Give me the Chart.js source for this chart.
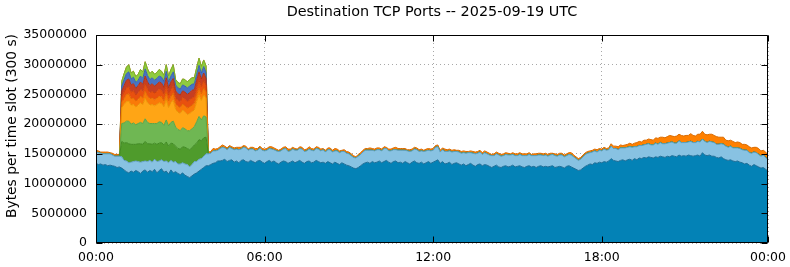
<!DOCTYPE html>
<html><head><meta charset="utf-8">
<script src="https://cdn.jsdelivr.net/npm/chart.js@4"></script>
<style>html,body{margin:0;padding:0;background:#fff;overflow:hidden}canvas{display:block}</style>
</head><body>
<canvas id="c" width="790" height="267"></canvas>
<script>
// ---- text ----
const TITLE = 'Destination TCP Ports -- 2025-09-19 UTC';
const Y_TITLE = 'Bytes per time slot (300 s)';
const XTICK_SLOTS = [0, 72, 144, 216, 287];
const XTICK_LABELS = ['00:00', '06:00', '12:00', '18:00', '00:00'];
const Y_MAX = 35000000, Y_STEP = 5000000;

// ---- values, millions of bytes per 5-minute slot (288 slots) ----
// bottom layer (dark blue)
const base1 = [
13.4,13.2,13.3,13.1,13.2,13.0,13.1,13.0,12.9,12.7,12.8,12.6,
12.3,12.0,11.8,12.1,11.9,12.2,12.0,11.7,12.1,12.3,11.9,12.2,
12.0,12.4,11.8,12.2,12.5,11.9,12.1,11.6,12.3,11.8,12.0,11.7,
11.5,11.8,11.4,11.2,11.0,11.3,11.6,11.8,12.1,12.4,12.7,13.0,
13.0,13.2,13.4,13.5,13.8,13.8,13.9,14.1,13.7,13.9,14.0,13.6,
13.8,13.5,13.9,14.0,13.7,13.6,13.9,13.7,13.5,13.8,13.9,13.6,
13.4,13.7,13.9,13.6,13.8,13.5,13.3,13.6,13.8,13.7,13.4,13.6,
13.8,13.5,13.7,13.9,13.6,13.4,13.7,13.8,13.5,13.6,13.9,13.7,
13.5,13.6,13.4,13.7,13.5,13.3,13.6,13.4,13.2,13.5,13.3,13.1,
13.0,12.8,12.6,12.5,12.7,13.0,13.3,13.5,13.6,13.4,13.7,13.5,
13.6,13.8,13.5,13.7,13.9,13.6,13.4,13.7,13.8,13.5,13.6,13.4,
13.7,13.5,13.3,13.6,13.8,13.5,13.4,13.6,13.3,13.5,13.7,13.4,
13.6,13.8,14.0,13.4,13.7,13.3,13.4,13.6,13.2,13.4,13.5,13.3,
13.1,13.3,13.0,13.2,13.4,13.1,12.9,13.2,13.3,13.0,13.2,13.1,
12.9,12.7,12.9,13.1,12.8,12.7,12.9,13.0,12.8,12.9,13.1,12.8,
12.9,13.0,12.8,12.7,12.9,13.0,12.8,12.9,12.7,12.9,13.0,12.8,
12.9,12.8,12.9,13.0,12.7,12.8,12.9,12.8,12.6,12.9,13.0,12.8,
12.6,12.4,12.2,12.3,12.6,12.9,13.1,13.3,13.2,13.5,13.4,13.6,
13.5,13.7,13.6,13.8,14.2,13.9,13.8,13.7,13.9,14.0,13.8,14.0,
14.1,13.9,14.2,14.0,14.3,14.2,14.4,14.3,14.5,14.4,14.3,14.5,
14.4,14.6,14.5,14.4,14.6,14.5,14.7,14.6,14.5,14.8,14.6,14.7,
14.6,14.8,14.7,14.6,14.7,14.8,14.6,15.2,14.8,14.7,14.8,14.6,
14.6,14.4,14.3,14.5,14.2,14.0,13.9,14.0,13.8,13.7,13.8,13.6,
13.5,13.3,13.4,13.1,12.9,13.2,13.0,12.8,12.6,12.7,12.4,12.1
];
// second layer (light blue)
const base2 = [
1.9,2.0,1.8,1.9,1.8,2.0,1.9,1.8,1.7,1.9,1.8,1.9,
1.6,1.8,1.7,1.5,1.8,1.6,1.7,1.9,1.6,1.5,1.8,1.7,
1.6,1.7,1.9,1.6,1.5,1.8,1.7,1.9,1.6,1.8,1.7,1.6,
1.8,1.7,1.9,2.0,1.8,1.9,2.1,1.9,2.0,1.8,1.9,2.0,
2.0,1.9,2.1,2.0,1.8,2.1,2.2,1.9,2.0,2.2,1.9,2.1,
2.0,2.2,1.9,2.1,2.3,2.0,1.9,2.1,2.0,1.8,2.1,2.0,
2.1,1.9,2.0,2.2,1.9,2.0,2.1,1.9,2.0,2.2,2.0,1.9,
2.0,2.1,1.9,2.0,2.2,2.0,1.8,2.0,2.1,1.9,2.0,2.1,
2.0,2.1,1.9,2.0,2.2,2.0,1.9,2.1,2.0,1.9,2.1,2.0,
2.0,1.9,1.8,1.8,1.9,1.9,2.0,2.1,2.0,2.2,1.9,2.0,
2.1,1.9,2.0,2.2,2.0,1.9,2.1,2.0,1.9,2.1,2.0,2.2,
1.9,2.0,2.1,1.9,2.0,2.2,2.0,1.9,2.1,2.0,1.9,2.1,
2.0,2.3,2.2,1.9,2.0,2.1,2.0,1.9,2.1,2.0,1.9,2.0,
2.0,1.9,2.1,2.0,1.8,2.0,2.1,1.9,2.0,1.9,2.0,1.9,
1.9,2.0,1.8,1.9,2.0,1.9,1.8,1.9,2.0,1.9,1.8,1.9,
1.8,1.9,1.9,2.0,1.8,1.9,1.9,1.8,2.0,1.9,1.8,1.9,
1.9,1.8,1.9,1.9,2.0,1.8,1.9,2.0,1.9,1.8,1.9,2.0,
1.9,1.8,1.7,1.8,1.9,2.0,2.0,1.9,2.1,2.0,1.9,2.0,
2.0,2.1,2.0,1.9,2.1,2.0,2.1,2.0,2.1,2.0,2.2,2.1,
2.1,2.2,2.0,2.2,2.1,2.2,2.1,2.3,2.2,2.1,2.2,2.3,
2.2,2.3,2.2,2.3,2.2,2.4,2.3,2.2,2.3,2.4,2.3,2.2,
2.3,2.2,2.4,2.3,2.2,2.3,2.4,2.3,2.3,2.2,2.3,2.4,
2.3,2.2,2.3,2.2,2.4,2.3,2.2,2.3,2.2,2.3,2.2,2.3,
2.2,2.3,2.2,2.1,2.2,2.1,2.2,2.1,2.0,2.1,2.0,1.9
];
// top layer (orange)
const topOrange = [
0.3,0.3,0.2,0.3,0.3,0.3,0.2,0.3,0.3,0.3,0.3,0.0,
0,0,0,0,0,0,0,0,0,0,0,0,
0,0,0,0,0,0,0,0,0,0,0,0,
0,0,0,0,0,0,0,0,0,0,0,0,
0.3,0.3,0.4,0.3,0.3,0.3,0.4,0.3,0.3,0.3,0.3,0.3,
0.3,0.4,0.3,0.3,0.3,0.2,0.3,0.3,0.4,0.3,0.3,0.3,
0.3,0.3,0.3,0.4,0.3,0.3,0.2,0.3,0.3,0.3,0.4,0.3,
0.3,0.3,0.2,0.3,0.3,0.3,0.3,0.4,0.3,0.3,0.3,0.3,
0.3,0.2,0.3,0.3,0.3,0.3,0.4,0.3,0.3,0.2,0.3,0.3,
0.3,0.3,0.3,0.2,0.3,0.3,0.3,0.3,0.3,0.4,0.3,0.3,
0.3,0.3,0.3,0.3,0.2,0.3,0.3,0.3,0.4,0.3,0.3,0.3,
0.3,0.2,0.3,0.3,0.3,0.3,0.3,0.3,0.2,0.3,0.3,0.3,
0.3,0.3,0.3,0.3,0.3,0.4,0.3,0.3,0.3,0.3,0.2,0.3,
0.3,0.3,0.3,0.2,0.3,0.3,0.3,0.3,0.3,0.3,0.3,0.3,
0.3,0.2,0.3,0.3,0.3,0.3,0.3,0.3,0.3,0.2,0.3,0.3,
0.3,0.3,0.3,0.3,0.3,0.3,0.2,0.3,0.3,0.3,0.3,0.3,
0.3,0.3,0.3,0.2,0.3,0.3,0.3,0.3,0.3,0.3,0.3,0.4,
0.3,0.3,0.3,0.3,0.3,0.3,0.3,0.3,0.3,0.3,0.4,0.3,
0.3,0.3,0.3,0.3,0.4,0.4,0.4,0.5,0.5,0.4,0.5,0.5,
0.6,0.5,0.6,0.7,0.7,0.6,0.8,0.7,0.8,0.9,0.8,0.9,
1.0,0.9,1.1,1.0,1.1,1.2,1.0,1.1,1.2,1.1,1.2,1.1,
1.2,1.1,1.3,1.2,1.1,1.2,1.3,1.3,1.2,1.3,1.2,1.3,
1.2,1.3,1.2,1.1,1.2,1.0,1.1,1.0,1.1,0.9,1.0,1.0,
0.9,1.0,0.9,1.0,0.9,0.8,0.9,1.0,0.9,0.8,0.9,0.8
];
// burst layers: slots 11..47 (01:00 - 03:55)
const BURST_START = 11;
const burstDarkGreen  = [2.6,2.9,3.1,3.2,3.0,2.9,2.8,3.0,3.1,2.9,3.3,3.0,2.8,3.0,2.7,2.9,3.0,2.9,2.8,3.2,2.8,2.9,3.1,2.6,2.6,2.5,2.7,2.8,2.7,2.9,2.8,2.8,3.1,3.3,3.0,3.1,2.8];
const burstLightGreen = [3.0,3.4,3.6,3.8,3.4,3.6,3.3,3.4,3.6,3.5,3.8,3.6,3.4,3.5,3.3,3.5,3.6,3.4,3.3,3.7,3.4,3.5,3.8,3.2,3.2,3.1,3.2,3.1,3.0,3.2,3.2,3.1,3.6,3.9,3.5,3.7,3.4];
const burstYellow     = [2.7,3.1,3.3,3.4,3.2,3.1,3.0,3.1,3.3,3.2,3.5,3.3,3.1,3.2,3.0,3.2,3.2,3.2,3.1,3.4,3.1,3.3,3.5,3.0,2.9,2.9,3.0,2.8,2.7,2.9,2.9,2.8,3.4,3.6,3.3,3.5,3.2];
const burstOrange     = [0.9,1.0,1.2,1.2,1.1,1.1,1.0,1.0,1.1,1.1,1.2,1.1,1.1,1.1,1.0,1.1,1.1,1.1,1.0,1.2,1.1,1.1,1.2,1.0,1.0,1.0,1.0,1.1,1.1,1.1,1.1,1.1,1.1,1.2,1.1,1.2,1.0];
const burstOrangeRed  = [0.9,1.1,1.1,1.2,1.1,1.2,1.0,1.1,1.2,1.1,1.2,1.2,1.0,1.1,1.1,1.1,1.2,1.1,1.1,1.2,1.0,1.1,1.2,1.0,1.0,1.0,1.1,1.1,1.1,1.2,1.2,1.1,1.2,1.3,1.2,1.2,1.1];
const burstRed        = [1.0,1.1,1.3,1.3,1.2,1.2,1.1,1.2,1.2,1.2,1.3,1.2,1.2,1.3,1.2,1.2,1.2,1.2,1.2,1.3,1.2,1.3,1.3,1.1,1.1,1.1,1.1,1.2,1.2,1.2,1.3,1.2,1.3,1.4,1.3,1.3,1.2];
const burstBlue       = [0.8,1.0,1.1,1.2,1.0,1.1,1.0,0.9,1.0,1.0,1.2,1.1,1.0,1.0,1.0,1.0,1.0,1.0,1.0,1.1,1.0,1.0,1.1,1.0,1.0,1.0,1.0,1.0,1.1,1.1,1.0,1.0,1.0,1.1,1.0,1.1,1.0];
const burstLime       = [0.8,1.0,1.1,1.2,1.0,1.0,1.0,1.0,1.1,1.1,1.2,1.1,1.0,1.1,1.0,1.0,1.1,1.0,1.0,1.1,1.0,1.1,1.2,0.9,0.9,0.9,1.0,1.1,1.0,1.1,1.1,1.0,1.1,1.2,1.1,1.1,1.1];

// ---- build ----
const N = base1.length;
function pts(arr) { return arr.map((v, i) => ({ x: i, y: v * 1e6 })); }
function burst(arr) {
  const full = new Array(N).fill(0);
  arr.forEach((v, k) => { full[BURST_START + k] = v; });
  return pts(full);
}
function layer(data, bg, bd, fill) {
  return { data, backgroundColor: bg, borderColor: bd, borderWidth: 1, fill: fill || '-1',
           pointRadius: 0, tension: 0 };
}
const datasets = [
  layer(pts(base1), '#0382b6', '#1f6d96', 'origin'),
  layer(pts(base2), '#88c2e2', '#5f9fc2'),
  layer(burst(burstDarkGreen), '#4f9b2c', '#3f8a22'),
  layer(burst(burstLightGreen), '#6fb753', '#5ca444'),
  layer(burst(burstYellow), '#ffa515', '#eb9200'),
  layer(burst(burstOrange), '#f97a08', '#e06600'),
  layer(burst(burstOrangeRed), '#e8500f', '#cf420a'),
  layer(burst(burstRed), '#c63f22', '#ad3219'),
  layer(burst(burstBlue), '#4873c2', '#3a62ab'),
  layer(burst(burstLime), '#8fcb3e', '#78b22e'),
  layer(pts(topOrange), '#ff8000', '#d96b00'),
];

const FONT = '"DejaVu Sans", sans-serif';
const framePlugin = {
  id: 'frame',
  afterDatasetsDraw(chart) {
    const { ctx, chartArea: a, scales } = chart;
    ctx.save();
    ctx.strokeStyle = '#000';
    ctx.lineWidth = 1;
    ctx.beginPath();
    const L = Math.round(a.left) + 0.5, R = Math.round(a.right) - 0.5;
    const T = Math.round(a.top) + 0.5, B = Math.round(a.bottom) - 0.5;
    ctx.rect(L, T, R - L, B - T);
    const tl = 6;
    scales.y.ticks.forEach(t => {
      const y = Math.round(scales.y.getPixelForValue(t.value)) + 0.5;
      ctx.moveTo(L, y); ctx.lineTo(L + tl, y);
      ctx.moveTo(R, y); ctx.lineTo(R - tl, y);
    });
    scales.x.ticks.forEach(t => {
      const x = Math.round(scales.x.getPixelForValue(t.value)) + 0.5;
      ctx.moveTo(x, B); ctx.lineTo(x, B - tl);
      ctx.moveTo(x, T); ctx.lineTo(x, T + tl);
    });
    ctx.stroke();
    ctx.restore();
  },
  afterDraw(chart) {
    const { ctx, chartArea: a } = chart;
    ctx.save();
    ctx.fillStyle = '#000';
    ctx.font = '14.4px ' + FONT;
    ctx.textAlign = 'center';
    ctx.textBaseline = 'middle';
    ctx.fillText(TITLE, (a.left + a.right) / 2, 12);
    ctx.font = '13.8px ' + FONT;
    ctx.translate(12, 126);
    ctx.rotate(-Math.PI / 2);
    ctx.fillText(Y_TITLE, 0, 0);
    ctx.restore();
  }
};

new Chart(document.getElementById('c'), {
  type: 'line',
  data: { datasets },
  plugins: [framePlugin],
  options: {
    responsive: false,
    animation: false,
    devicePixelRatio: 1,
    layout: { padding: { top: 35, right: 22, bottom: 0, left: 0 } },
    plugins: { legend: { display: false }, tooltip: { enabled: false }, title: { display: false } },
    elements: { line: { borderJoinStyle: 'round' } },
    scales: {
      x: {
        type: 'linear', min: XTICK_SLOTS[0], max: XTICK_SLOTS[XTICK_SLOTS.length - 1],
        afterBuildTicks(s) { s.ticks = XTICK_SLOTS.map(v => ({ value: v })); },
        afterFit(s) { s.height = 24; s.paddingLeft = 0; s.paddingRight = 0; },
        ticks: {
          autoSkip: false, maxRotation: 0, padding: 7, color: '#000',
          font: { family: FONT, size: 12.5 },
          callback: (v) => XTICK_LABELS[XTICK_SLOTS.indexOf(v)]
        },
        grid: { color: '#a8a8a8', drawTicks: false, lineWidth: 1 },
        border: { display: false, dash: [1, 3] }
      },
      y: {
        stacked: true, min: 0, max: Y_MAX,
        afterFit(s) { s.width = 96; s.paddingTop = 0; s.paddingBottom = 0; },
        ticks: {
          stepSize: Y_STEP, padding: 9, color: '#000',
          font: { family: FONT, size: 12.5 },
          callback: (v) => String(v)
        },
        grid: { color: '#a8a8a8', drawTicks: false, lineWidth: 1 },
        border: { display: false, dash: [1, 3] }
      }
    }
  }
});
</script>
</body></html>
